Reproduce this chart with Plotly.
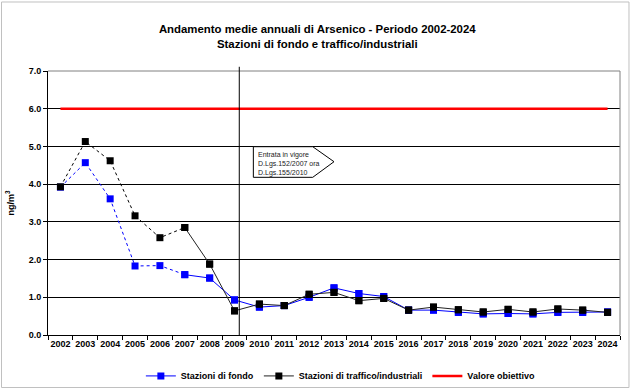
import plotly.graph_objects as go

years = [str(y) for y in range(2002, 2025)]
fondo = [3.92, 4.57, 3.61, 1.83, 1.84, 1.60, 1.51, 0.93, 0.74, 0.78, 1.00, 1.25, 1.10,
         1.02, 0.66, 0.66, 0.60, 0.56, 0.57, 0.56, 0.60, 0.60, 0.61]
traffico = [3.93, 5.13, 4.62, 3.16, 2.58, 2.85, 1.88, 0.64, 0.82, 0.78, 1.08, 1.13, 0.91,
            0.97, 0.66, 0.74, 0.67, 0.61, 0.68, 0.61, 0.69, 0.66, 0.60]
obiettivo = [6.0] * len(years)
split_year = "2007"  # dashed before, solid after
y_ticks = [0, 1, 2, 3, 4, 5, 6, 7]

FONT = "Arial, Liberation Sans, sans-serif"
k = years.index(split_year)

fig = go.Figure()

def add_series(name, vals, color, linecolor):
    fig.add_trace(go.Scatter(x=years[:k + 1], y=vals[:k + 1], mode="lines",
                             line=dict(color=color, width=1, dash="dot"),
                             showlegend=False, hoverinfo="skip"))
    fig.add_trace(go.Scatter(x=years, y=vals, mode="markers",
                             marker=dict(symbol="square", size=7, color=color),
                             showlegend=False))
    fig.add_trace(go.Scatter(x=years[k:], y=vals[k:], mode="lines+markers", name=name,
                             line=dict(color=linecolor, width=1),
                             marker=dict(symbol="square", size=7, color=color)))

add_series("Stazioni di fondo", fondo, "#0000FF", "#0000FF")
add_series("Stazioni di traffico/industriali", traffico, "#000000", "#222222")
fig.add_trace(go.Scatter(x=years, y=obiettivo, mode="lines", name="Valore obiettivo",
                         line=dict(color="#FF0000", width=2.5)))

shapes = [
    # outer chart border
    dict(type="rect", xref="paper", yref="paper", x0=-0.0813, x1=1.0157, y0=-0.1989, y1=1.2614,
         line=dict(color="#c0c0c0", width=1), layer="below"),
    # plot area top / right border (grey)
    dict(type="line", xref="paper", yref="paper", x0=0, x1=1, y0=1, y1=1,
         line=dict(color="#808080", width=1), layer="above"),
    dict(type="line", xref="paper", yref="paper", x0=1, x1=1, y0=0, y1=1,
         line=dict(color="#808080", width=1), layer="above"),
    # vertical marker line
    dict(type="line", xref="paper", yref="paper", x0=0.3344, x1=0.3344, y0=0, y1=1.016,
         line=dict(color="#000000", width=1), layer="above"),
    # callout
    dict(type="path", xref="paper", yref="paper",
         path="M 0.359 0.7133 L 0.4628 0.7133 L 0.5 0.6564 L 0.4628 0.5973 L 0.359 0.5973 Z",
         line=dict(color="#000000", width=1), fillcolor="#ffffff", layer="above"),
]

fig.update_layout(
    width=632, height=390,
    margin=dict(l=48, r=12, t=71, b=55, autoexpand=False),
    paper_bgcolor="#ffffff", plot_bgcolor="#ffffff",
    font=dict(family=FONT, size=9, color="#000000"),
    title=dict(text="Andamento medie annuali di Arsenico - Periodo 2002-2024<br>Stazioni di fondo e traffico/industriali",
               x=0.502, xref="container", xanchor="center", y=0.915, yanchor="middle",
               font=dict(family=FONT, size=11.4, color="#000000", weight="bold")),
    showlegend=True,
    legend=dict(orientation="h", x=0.512, xanchor="center", y=-0.155, yanchor="middle",
                font=dict(family=FONT, size=9, color="#000000", weight="bold"),
                itemwidth=30, bgcolor="rgba(0,0,0,0)"),
    shapes=shapes,
    annotations=[dict(xref="paper", yref="paper", x=0.3636, y=0.705, xanchor="left", yanchor="top",
                      align="left", showarrow=False,
                      text="Entrata in vigore<br>D.Lgs.152/2007 ora<br>D.Lgs.155/2010",
                      font=dict(family=FONT, size=7, color="#222222"))],
)

fig.update_xaxes(type="category", range=[-0.5, len(years) - 0.5], autorange=False,
                 showgrid=False, zeroline=False, automargin=False,
                 showline=True, linecolor="#000000", linewidth=1, tickangle=0,
                 ticks="outside", ticklen=4, tickcolor="#000000", tickson="boundaries",
                 tickfont=dict(family=FONT, size=9, color="#000000", weight="bold"),
                 fixedrange=True)
fig.update_yaxes(range=[0, 7], tickvals=y_ticks, tickformat=".1f", automargin=False,
                 showgrid=True, gridcolor="#000000", gridwidth=1, zeroline=False,
                 showline=True, linecolor="#000000", linewidth=1,
                 ticks="outside", ticklen=4, tickcolor="#000000",
                 tickfont=dict(family=FONT, size=9, color="#000000", weight="bold"),
                 title=dict(text="ng/m<sup>3</sup>", standoff=12,
                            font=dict(family=FONT, size=9, color="#000000", weight="bold")))

fig.write_html("out.html", config={"displayModeBar": False},
               post_script="document.body.style.margin='0';document.body.style.overflow='hidden';")
